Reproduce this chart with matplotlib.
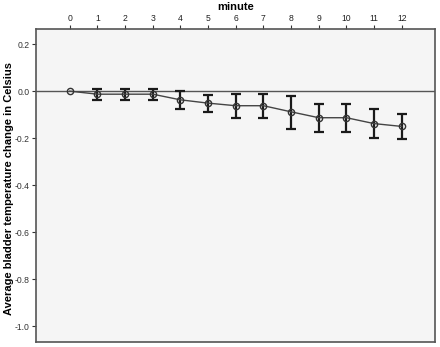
import matplotlib
matplotlib.use("Agg")
import matplotlib.pyplot as plt
import numpy as np

plt.rcParams['font.family'] = ['Liberation Sans', 'DejaVu Sans']

minutes = [0, 1, 2, 3, 4, 5, 6, 7, 8, 9, 10, 11, 12]
mean_change = [0.0, -0.013, -0.013, -0.013, -0.037, -0.051, -0.062, -0.062,
               -0.088, -0.113, -0.113, -0.138, -0.150]
ci_upper = [0.0, 0.011, 0.011, 0.011, 0.0, -0.016, -0.011, -0.011,
            -0.020, -0.054, -0.054, -0.074, -0.098]
ci_lower = [0.0, -0.037, -0.037, -0.037, -0.074, -0.088, -0.115, -0.115,
            -0.159, -0.172, -0.172, -0.200, -0.204]
yticks = [0.2, 0.0, -0.2, -0.4, -0.6, -0.8, -1.0]

fig = plt.figure(figsize=(4.4, 3.47), dpi=100)
ax = fig.add_axes([36/440, 1-342/347, (435-36)/440, (342-29)/347])
ax.set_facecolor('#f5f5f5')

x = np.array(minutes)
m = np.array(mean_change)
lo = m - np.array(ci_lower)
hi = np.array(ci_upper) - m
err_idx = x > 0
ax.errorbar(x[err_idx], m[err_idx], yerr=[lo[err_idx], hi[err_idx]], fmt='none',
            ecolor='#1a1a1a', elinewidth=1.6, capsize=3.5, capthick=1.6, zorder=3)
ax.plot(x, m, color='#444444', lw=1.0, marker='o', ms=4.5, mfc='none',
        mec='#333333', mew=1.0, zorder=4)
ax.axhline(0, color='#555555', lw=1.0, zorder=2)

ax.set_xlim(-1.22, 13.2)
ax.set_ylim(-1.066, 0.264)
ax.set_xticks(minutes)
ax.set_xticklabels([str(v) for v in minutes])
ax.set_yticks(yticks)
ax.set_yticklabels([f"{v:.1f}" for v in yticks])
ax.xaxis.tick_top()
ax.xaxis.set_label_position('top')
ax.set_xlabel('minute', fontsize=8, fontweight='bold', labelpad=3)
ax.set_ylabel('Average bladder temperature change in Celsius', fontsize=8,
              fontweight='bold')
ax.yaxis.set_label_coords(-0.055, 0.49)
ax.tick_params(axis='both', labelsize=6.2, length=3, width=0.8, colors='#333333',
               pad=1.5)
ax.tick_params(axis='x', labelcolor='#222222')
for s in ax.spines.values():
    s.set_color('#555555')
    s.set_linewidth(1.2)

fig.savefig('out.png', dpi=100)
